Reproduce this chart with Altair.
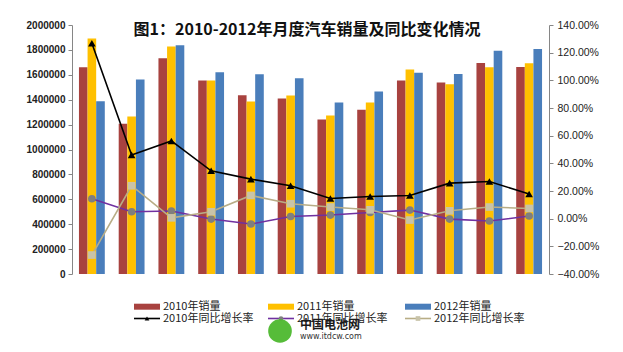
import altair as alt
import pandas as pd

# ---------------- data ----------------
months = list(range(1, 13))
bar_names = ["2010年销量", "2011年销量", "2012年销量"]
rate_names = ["2010年同比增长率", "2011年同比增长率", "2012年同比增长率"]

sales_2010 = [1661000, 1206000, 1733000, 1554000, 1436000, 1410000,
              1241000, 1319000, 1554000, 1538000, 1695000, 1663000]
sales_2011 = [1891000, 1265000, 1827000, 1554000, 1385000, 1434000,
              1273000, 1378000, 1643000, 1524000, 1661000, 1693000]
sales_2012 = [1388000, 1562000, 1838000, 1621000, 1605000, 1573000,
              1378000, 1466000, 1616000, 1607000, 1794000, 1807000]

growth_2010 = [1.268, 0.461, 0.562, 0.346, 0.286, 0.238,
               0.146, 0.160, 0.168, 0.257, 0.269, 0.178]
growth_2011 = [0.144, 0.050, 0.055, -0.003, -0.039, 0.016,
               0.026, 0.045, 0.062, -0.003, -0.017, 0.019]
growth_2012 = [-0.263, 0.238, 0.006, 0.050, 0.168, 0.108,
               0.084, 0.064, -0.010, 0.057, 0.084, 0.074]

left_ticks = [0, 200000, 400000, 600000, 800000, 1000000,
              1200000, 1400000, 1600000, 1800000, 2000000]
right_ticks = [-0.4, -0.2, 0.0, 0.2, 0.4, 0.6, 0.8, 1.0, 1.2, 1.4]

title_text = "图1：2010-2012年月度汽车销量及同比变化情况"
wm_name = "中国电池网"
wm_url = "www.itdcw.com"

# ---------------- styles ----------------
bar_colors = ["#A8423F", "#FFC000", "#4A7EBB"]
line_colors = ["#000000", "#7030A0", "#B8AD86"]
marker_fill = ["#000000", "#7F7F7F", "#C8C3A9"]
marker_shape = ["triangle-up", "circle", "square"]
marker_size = [60, 60, 55]
axis_grey = "#868686"
FONT_CJK = "Noto Sans CJK SC"

# ---------------- tables ----------------
bar_rows = []
for name, vals in zip(bar_names, [sales_2010, sales_2011, sales_2012]):
    for m, v in zip(months, vals):
        bar_rows.append({"month": m, "series": name, "sales": v})
bar_df = pd.DataFrame(bar_rows)

rate_rows = []
for name, vals in zip(rate_names, [growth_2010, growth_2011, growth_2012]):
    for m, v in zip(months, vals):
        rate_rows.append({"month": m, "series": name, "rate": v})
rate_df = pd.DataFrame(rate_rows)

W, H = 477, 249

x_enc = alt.X(
    "month:O",
    scale=alt.Scale(paddingInner=0.35, paddingOuter=0.175),
    axis=alt.Axis(title=None, labelAngle=0, tickBand="extent", tickSize=5,
                  domainColor=axis_grey, tickColor=axis_grey,
                  labelFont="Liberation Sans", labelFontSize=13,
                  labelColor="#222222", labelPadding=4),
)

bars = alt.Chart(bar_df).mark_bar().encode(
    x=x_enc,
    xOffset=alt.XOffset("series:N", scale=alt.Scale(domain=bar_names, paddingInner=0, paddingOuter=0)),
    y=alt.Y("sales:Q",
            scale=alt.Scale(domain=[0, 2000000], nice=False, zero=True),
            axis=alt.Axis(title=None, orient="left", values=left_ticks, format="d",
                          grid=False, tickSize=4, labelPadding=3,
                          domainColor=axis_grey, tickColor=axis_grey,
                          labelFont="Liberation Sans", labelFontSize=10,
                          labelFontWeight="bold", labelColor="#222222")),
    color=alt.Color("series:N", scale=alt.Scale(domain=bar_names, range=bar_colors), legend=None),
)

yR_scale = alt.Scale(domain=[-0.4, 1.4], nice=False, zero=False)
right_axis = alt.Axis(title=None, orient="right", values=right_ticks,
                      format=".2%",
                      grid=False, tickSize=4, labelPadding=4,
                      domainColor=axis_grey, tickColor=axis_grey,
                      labelFont="Liberation Sans", labelFontSize=10.5,
                      labelColor="#222222")

# one long-format table for all growth series; styles through fixed scales
line_color_scale = alt.Scale(domain=rate_names, range=line_colors)
fill_scale = alt.Scale(domain=rate_names, range=marker_fill)
shape_scale = alt.Scale(domain=rate_names, range=marker_shape)

rate_base = alt.Chart(rate_df)
rate_lines = rate_base.mark_line(strokeWidth=1.6).encode(
    x=alt.X("month:O", axis=None),
    y=alt.Y("rate:Q", scale=yR_scale, axis=right_axis),
    stroke=alt.Stroke("series:N", scale=line_color_scale, legend=None),
    detail="series:N",
)
rate_pts = rate_base.mark_point(filled=True, opacity=1, size=58, strokeWidth=0).encode(
    x=alt.X("month:O", axis=None),
    y=alt.Y("rate:Q", scale=yR_scale, axis=right_axis),
    fill=alt.Fill("series:N", scale=fill_scale, legend=None),
    shape=alt.Shape("series:N", scale=shape_scale, legend=None),
)

lines = alt.layer(rate_lines, rate_pts)

# ---------------- title ----------------
title = alt.Chart(pd.DataFrame({"t": [title_text]})).mark_text(
    font=FONT_CJK, fontSize=16, fontWeight="bold", align="center",
    baseline="middle", color="#111111"
).encode(x=alt.value(235), y=alt.value(5), text="t:N")

# ---------------- legend (manual) ----------------
leg_cols_x = [62, 196, 333]
leg_rows_y = [281.7, 293.5]
legend_layers = []
for i in range(3):
    x0 = leg_cols_x[i]
    legend_layers.append(
        alt.Chart(pd.DataFrame({"s": [bar_names[i]]})).mark_rect(color=bar_colors[i]).encode(
            x=alt.value(x0), x2=alt.value(x0 + 26),
            y=alt.value(leg_rows_y[0] - 3), y2=alt.value(leg_rows_y[0] + 3))
    )
    legend_layers.append(
        alt.Chart(pd.DataFrame({"s": [bar_names[i]]})).mark_text(
            font=FONT_CJK, fontSize=11, align="left", baseline="middle", color="#222222"
        ).encode(x=alt.value(x0 + 29), y=alt.value(leg_rows_y[0]), text="s:N")
    )
    legend_layers.append(
        alt.Chart(pd.DataFrame({"s": [rate_names[i]]})).mark_rule(
            color=line_colors[i], strokeWidth=1.6
        ).encode(x=alt.value(x0), x2=alt.value(x0 + 26), y=alt.value(leg_rows_y[1]))
    )
    legend_layers.append(
        alt.Chart(pd.DataFrame({"s": [rate_names[i]]})).mark_point(
            shape=marker_shape[i], filled=True, opacity=1, size=22, color=marker_fill[i]
        ).encode(x=alt.value(x0 + 13), y=alt.value(leg_rows_y[1]))
    )
    legend_layers.append(
        alt.Chart(pd.DataFrame({"s": [rate_names[i]]})).mark_text(
            font=FONT_CJK, fontSize=11, align="left", baseline="middle", color="#222222"
        ).encode(x=alt.value(x0 + 29), y=alt.value(leg_rows_y[1]), text="s:N")
    )

# ---------------- watermark ----------------
wm_logo = alt.Chart(pd.DataFrame({"s": [wm_name]})).mark_point(
    shape="circle", filled=True, opacity=0.95, size=560, color="#4DB82E"
).encode(x=alt.value(208), y=alt.value(306))
wm_text = alt.Chart(pd.DataFrame({"s": [wm_name]})).mark_text(
    font=FONT_CJK, fontSize=12, fontWeight="bold", align="left", baseline="middle", color="#1a1a1a"
).encode(x=alt.value(228), y=alt.value(300), text="s:N")
wm_url_t = alt.Chart(pd.DataFrame({"s": [wm_url]})).mark_text(
    font="DejaVu Sans", fontSize=8, align="left", baseline="middle", color="#333333"
).encode(x=alt.value(228), y=alt.value(312), text="s:N")

main = alt.layer(bars, lines).resolve_scale(y="independent")

chart = alt.layer(main, title, *legend_layers, wm_logo, wm_text, wm_url_t).properties(
    width=W, height=H,
    autosize=alt.AutoSizeParams(type="none"),
    padding={"left": 72, "top": 25, "right": 74, "bottom": 78},
    background="white",
).configure_view(stroke=None)

chart.save("out.html", embed_options={"renderer": "svg", "actions": False})
